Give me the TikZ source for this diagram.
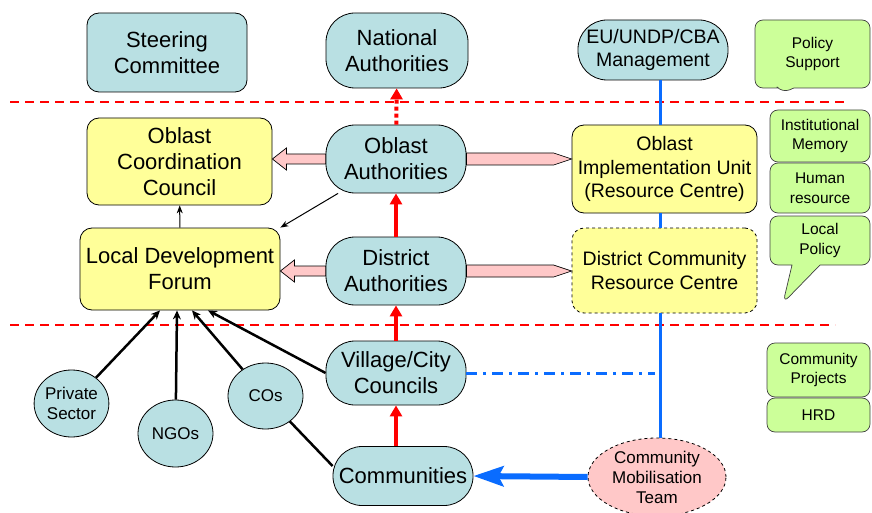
\documentclass[tikz,border=0pt]{standalone}
\usepackage{fontspec}
\setmainfont{Liberation Sans}
\usetikzlibrary{shapes.geometric,shapes.callouts,arrows.meta,calc}
\definecolor{boxteal}{HTML}{B9E0E3}
\definecolor{boxyellow}{HTML}{FFFF99}
\definecolor{boxgreen}{HTML}{CCFF99}
\definecolor{arrowpink}{HTML}{FFC8C8}
\definecolor{lineblue}{HTML}{0A6CFF}
\newcommand{\mainsize}{\fontsize{22}{26}\selectfont}
\newcommand{\midsize}{\fontsize{19.5}{23.5}\selectfont}
\newcommand{\smallsize}{\fontsize{17}{20}\selectfont}
\newcommand{\notesize}{\fontsize{15.5}{19.5}\selectfont}

\begin{document}
\begin{tikzpicture}[x=1pt,y=-1pt,
  every node/.style={align=center,inner sep=0pt},
  body/.style={draw,line width=0.8pt,fill=boxteal,font=\mainsize},
  authority/.style={body,rounded corners=29pt},
  council/.style={draw,line width=0.8pt,fill=boxyellow,rounded corners=12pt},
  group/.style={draw,line width=0.8pt,ellipse,fill=boxteal,font=\smallsize},
  note/.style={draw=black!75,line width=0.7pt,fill=boxgreen,rounded corners=8pt,font=\notesize},
  pinkarrow/.style={draw,fill=arrowpink,line width=0.7pt},
  redarrow/.style={red,line width=4pt,-{Triangle[length=11pt,width=12pt]}},
  blueline/.style={lineblue,line width=3pt},
  feeder/.style={line width=2.5pt},
  thinarrow/.style={line width=1pt,-{Stealth[length=8pt,width=6pt]}},
  reddash/.style={red,line width=1.8pt,dash pattern=on 9pt off 6pt}]
  \useasboundingbox (0,0) rectangle (872,513);

  % top row
  \node[body,rounded corners=12pt,minimum width=160pt,minimum height=79pt] (sc) at (167,52.5) {Steering\\Committee};
  \node[authority,minimum width=142pt,minimum height=75pt] (na) at (397,50.5) {National\\Authorities};
  \node[authority,font=\midsize,minimum width=150pt,minimum height=60pt] (eu) at (653,50) {EU/UNDP/CBA\\Management};
  \node[note,rectangle callout,callout absolute pointer={(782,93)},callout pointer width=16pt,
        minimum width=115pt,minimum height=68pt] (ps) at (812.5,54) {Policy\\Support};

  \draw[reddash] (10,102) -- (845,102);

  % oblast level
  \node[council,font=\mainsize,minimum width=185pt,minimum height=87pt] (occ) at (179.5,161.5) {Oblast\\Coordination\\Council};
  \node[authority,minimum width=140pt,minimum height=68pt] (oa) at (396,159) {Oblast\\Authorities};
  \node[council,font=\midsize,minimum width=185pt,minimum height=88pt] (oiu) at (664.5,169) {Oblast\\Implementation Unit\\(Resource Centre)};
  \node[note,minimum width=100pt,minimum height=52pt] (im) at (820,136) {Institutional\\Memory};
  \node[note,minimum width=100pt,minimum height=50pt] (hr) at (820,188) {Human\\resource};
  \node[note,rectangle callout,callout absolute pointer={(783,303)},callout pointer width=28pt,
        minimum width=100pt,minimum height=49pt] (lp) at (820,240.5) {Local\\Policy};

  % district level
  \node[council,font=\mainsize,minimum width=200pt,minimum height=82pt] (ldf) at (180,269) {Local Development\\Forum};
  \node[authority,minimum width=140pt,minimum height=68pt] (da) at (396,271) {District\\Authorities};
  \node[council,dashed,font=\midsize,minimum width=185pt,minimum height=85pt] (dcrc) at (664.5,270.5) {District Community\\Resource Centre};

  \draw[reddash] (10,325) -- (835,325);

  % community level
  \node[authority,minimum width=140pt,minimum height=64pt] (vcc) at (396,373) {Village/City\\Councils};
  \node[authority,minimum width=140pt,minimum height=59pt] (com) at (403,476) {Communities};
  \node[group,minimum width=73pt,minimum height=67pt] (psec) at (71.5,403.5) {Private\\Sector};
  \node[group,minimum width=75pt,minimum height=67pt] (ngo) at (175.5,433.5) {NGOs};
  \node[group,minimum width=75pt,minimum height=66pt] (cos) at (265.5,396) {COs};
  \node[draw,line width=0.8pt,dashed,ellipse,fill=arrowpink,font=\smallsize,minimum width=138pt,minimum height=78pt] (cmt) at (657,477) {Community\\Mobilisation\\Team};
  \node[note,minimum width=103pt,minimum height=54pt] (cp) at (818.5,370) {Community\\Projects};
  \node[note,minimum width=103pt,minimum height=34pt] (hrd) at (818.5,415) {HRD};

  % pink arrows
  \draw[pinkarrow] ($(oa.west)+(0,-5)$) -- ($(occ.east|-oa.west)+(14,-5)$) -- ++(0,-6) -- (occ.east|-oa.west)
    -- ++(14,11) -- ++(0,-6) -- ($(oa.west)+(0,5)$) -- cycle;
  \draw[pinkarrow] ($(oa.east)+(0,-6)$) -- ($(oiu.west|-oa.east)+(-18,-6)$) -- (oiu.west|-oa.east)
    -- ($(oiu.west|-oa.east)+(-18,6)$) -- ($(oa.east)+(0,6)$) -- cycle;
  \draw[pinkarrow] ($(da.west)+(0,-5)$) -- ($(ldf.east|-da.west)+(14,-5)$) -- ++(0,-6) -- (ldf.east|-da.west)
    -- ++(14,11) -- ++(0,-6) -- ($(da.west)+(0,5)$) -- cycle;
  \draw[pinkarrow] ($(da.east)+(0,-6)$) -- ($(dcrc.west|-da.east)+(-18,-6)$) -- (dcrc.west|-da.east)
    -- ($(dcrc.west|-da.east)+(-18,6)$) -- ($(da.east)+(0,6)$) -- cycle;

  % red arrows
  \draw[redarrow,dash pattern=on 4pt off 3pt] (oa) -- (na);
  \draw[redarrow] (da) -- (oa);
  \draw[redarrow] (vcc) -- (da);
  \draw[redarrow] (com.north -| vcc) -- (vcc);

  % blue lines
  \coordinate (spine) at (660,0);
  \draw[blueline] (eu.south -| spine) -- (oiu.north -| spine);
  \draw[blueline] (oiu.south -| spine) -- (dcrc.north -| spine);
  \draw[blueline] (dcrc.south -| spine) -- (cmt.north -| spine);
  \draw[blueline,dash pattern=on 11pt off 6pt on 3pt off 6pt] (vcc.east) -- ($(vcc.east -| spine)+(-5,0)$);
  \draw[lineblue,line width=6pt,-{Stealth[length=30pt,width=20pt,inset=5pt]}] (cmt.west) -- (com.east);

  % black arrows
  \draw[thinarrow] (oa) -- (ldf.north east);
  \draw[thinarrow] (ldf) -- (occ);
  \draw[feeder,-{Stealth[length=9pt,width=8pt]}] (psec) -- ($(ldf.south)+(-20,0)$);
  \draw[feeder,-{Stealth[length=9pt,width=8pt]}] (ngo) -- ($(ldf.south)+(-3,0)$);
  \draw[feeder,-{Stealth[length=9pt,width=8pt]}] (cos) -- ($(ldf.south)+(12,0)$);
  \draw[feeder,-{Stealth[length=9pt,width=8pt]}] (vcc.west) -- ($(ldf.south)+(28,0)$);
  \draw[feeder] (cos) -- ($(com.west)+(0,-10)$);
\end{tikzpicture}
\end{document}
